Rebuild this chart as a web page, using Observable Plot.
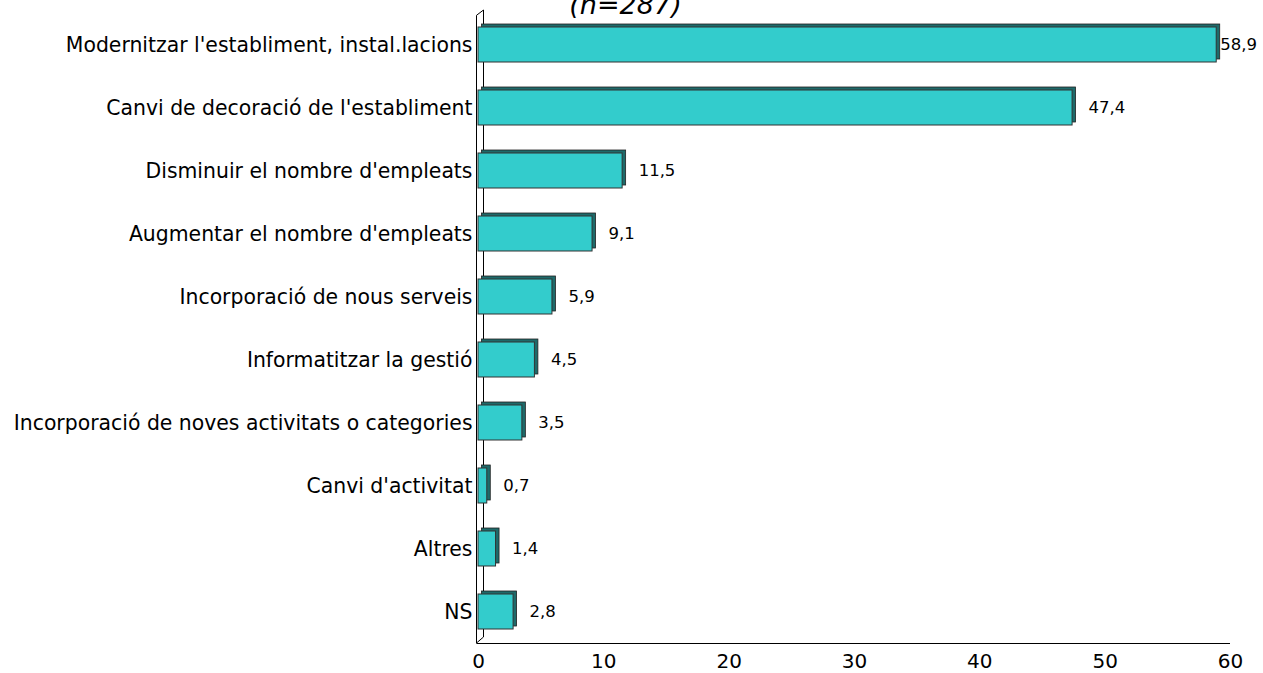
<!DOCTYPE html>
<html>
<head>
<meta charset="utf-8">
<script src="https://cdn.jsdelivr.net/npm/d3@7"></script>
<script src="https://cdn.jsdelivr.net/npm/@observablehq/plot@0.6"></script>
<style>
  body { margin: 0; background: #fff; }
  #chart svg { overflow: hidden; display: block; }
</style>
</head>
<body>
<div id="chart"></div>
<script>
const categories = [
  "Modernitzar l'establiment, instal.lacions",
  "Canvi de decoració de l'establiment",
  "Disminuir el nombre d'empleats",
  "Augmentar el nombre d'empleats",
  "Incorporació de nous serveis",
  "Informatitzar la gestió",
  "Incorporació de noves activitats o categories",
  "Canvi d'activitat",
  "Altres",
  "NS"
];
const values = [58.9, 47.4, 11.5, 9.1, 5.9, 4.5, 3.5, 0.7, 1.4, 2.8];
const xTicks = [0, 10, 20, 30, 40, 50, 60];
const subtitle = "(n=287)";

const data = categories.map((c, i) => ({category: c, value: values[i]}));
const fmt = v => v.toFixed(1).replace(".", ",");

const W = 1263, H = 673;
const faceColor = "#33cccc";
const sideColor = "#1e6a6a";

// 3D-style back wall and floor line, drawn from the scales
function wall(index, scales, vals, dims) {
  const x0 = scales.x(0) - 1.5;
  const x1 = x0 + 7;
  const top = dims.marginTop;
  const bottom = dims.height - dims.marginBottom;
  const g = d3.create("svg:g");
  g.append("path")
    .attr("d", `M${x0},${top + 2.3}L${x1},${top - 3}L${x1},${bottom - 6}L${x0},${bottom}Z`)
    .attr("fill", "white").attr("stroke", "black").attr("stroke-width", 1);
  g.append("line")
    .attr("x1", x0).attr("x2", scales.x(60))
    .attr("y1", bottom + 0.5).attr("y2", bottom + 0.5)
    .attr("stroke", "black").attr("stroke-width", 1);
  return g.node();
}

const chart = Plot.plot({
  width: W,
  height: H,
  marginLeft: 478,
  marginRight: 33,
  marginTop: 13,
  marginBottom: 30,
  style: {fontFamily: "'DejaVu Sans', Verdana, sans-serif", color: "black", background: "white"},
  x: {domain: [0, 60]},
  y: {domain: categories, paddingInner: 0.444, paddingOuter: 0.222},
  marks: [
    wall,
    Plot.barX(data, {x: "value", y: "category", fill: sideColor, stroke: "#222", strokeWidth: 0.8, dx: 3.5, dy: -3}),
    Plot.barX(data, {x: "value", y: "category", fill: faceColor, stroke: "#333", strokeWidth: 1}),
    Plot.axisX({ticks: xTicks, tickSize: 0, tickPadding: 10, fontSize: 20, label: null}),
    Plot.axisY({tickSize: 0, tickPadding: 6, fontSize: 20.4, label: null}),
    Plot.text(data, {x: "value", y: "category", text: d => fmt(d.value), dx: 16, textAnchor: "start", fontSize: 16.5, fill: "black"}),
    Plot.text([subtitle], {frameAnchor: "top", text: d => d, dx: -229, dy: -19, lineAnchor: "top", fontSize: 27, fontStyle: "italic", fill: "black"})
  ]
});

document.getElementById("chart").append(chart);

// keep value labels inside the picture (like the spreadsheet does)
chart.querySelectorAll("text").forEach(t => {
  if (!/^\d+,\d$/.test(t.textContent)) return;
  const r = t.getBoundingClientRect();
  const over = r.right - (W - 6);
  if (over > 0) {
    const prev = t.getAttribute("transform") || "";
    t.setAttribute("transform", `${prev} translate(${-over},0)`.trim());
  }
});
</script>
</body>
</html>
